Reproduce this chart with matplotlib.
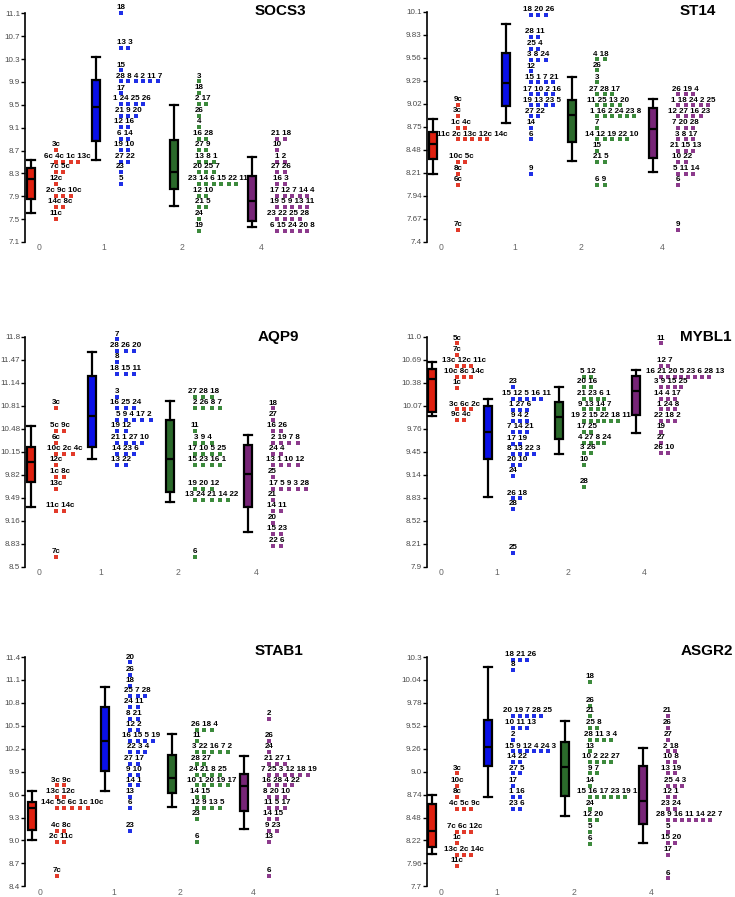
import matplotlib
matplotlib.use('Agg')
import matplotlib.pyplot as plt
from matplotlib import font_manager
import numpy as np

plt.rcParams['font.family'] = ['Liberation Sans', 'DejaVu Sans']

GROUPS = ['0', '1', '2', '4']
GENES = ['SOCS3', 'ST14', 'AQP9', 'MYBL1', 'STAB1', 'ASGR2']
BOX_COLORS = ['#e0200f', '#0a10e8', '#2b6a2b', '#772577']
DOT_COLORS = ['#e23a2a', '#1f2fe6', '#3c8a3c', '#8c3a8c']

# y tick labels
YTICKS = {
    'SOCS3': ['7.1', '7.5', '7.9', '8.3', '8.7', '9.1', '9.5', '9.9', '10.3', '10.7', '11.1'],
    'ST14': ['7.4', '7.67', '7.94', '8.21', '8.48', '8.75', '9.02', '9.29', '9.56', '9.83', '10.1'],
    'AQP9': ['8.5', '8.83', '9.16', '9.49', '9.82', '10.15', '10.48', '10.81', '11.14', '11.47', '11.8'],
    'MYBL1': ['7.9', '8.21', '8.52', '8.83', '9.14', '9.45', '9.76', '10.07', '10.38', '10.69', '11.0'],
    'STAB1': ['8.4', '8.7', '9.0', '9.3', '9.6', '9.9', '10.2', '10.5', '10.8', '11.1', '11.4'],
    'ASGR2': ['7.7', '7.96', '8.22', '8.48', '8.74', '9.0', '9.26', '9.52', '9.78', '10.04', '10.3'],
}

# box stats per group: (whisker low, q1, median, q3, whisker high)
BOXES = {
    'SOCS3': [(7.60, 7.86, 8.20, 8.39, 8.54), (8.53, 8.87, 9.46, 9.93, 10.33),
              (7.73, 8.02, 8.33, 8.89, 9.49), (7.36, 7.46, 7.81, 8.25, 8.58)],
    'ST14': [(8.19, 8.37, 8.55, 8.69, 8.84), (8.79, 8.99, 9.26, 9.62, 9.95),
             (8.35, 8.57, 8.89, 9.06, 9.33), (8.22, 8.38, 8.72, 8.97, 9.07)],
    'AQP9': [(9.35, 9.71, 10.00, 10.22, 10.52), (10.05, 10.22, 10.66, 11.24, 11.58),
             (9.43, 9.57, 10.05, 10.61, 10.88), (9.00, 9.35, 9.83, 10.24, 10.39)],
    'MYBL1': [(9.93, 9.98, 10.43, 10.57, 10.66), (8.84, 9.35, 9.71, 10.06, 10.16),
              (9.42, 9.62, 9.92, 10.12, 10.32), (9.70, 9.94, 10.27, 10.47, 10.55)],
    'STAB1': [(9.00, 9.14, 9.43, 9.50, 9.65), (9.65, 9.91, 10.30, 10.75, 11.01),
              (9.44, 9.62, 9.82, 10.12, 10.39), (9.15, 9.39, 9.71, 9.87, 10.10)],
    'ASGR2': [(8.07, 8.15, 8.33, 8.63, 8.74), (8.71, 9.06, 9.28, 9.59, 10.19),
              (8.50, 8.72, 9.05, 9.34, 9.57), (8.19, 8.41, 8.67, 9.06, 9.27)],
}

# labelled sample rows per group: (value, sample ids)
SOCS3_ROWS = [
    [(8.71, '3c'), (8.50, '6c 4c 1c 13c'), (8.32, '7c 5c'), (8.11, '12c'),
     (7.91, '2c 9c 10c'), (7.71, '14c 8c'), (7.51, '11c')],
    [(11.10, '18'), (10.49, '13 3'), (10.10, '15'), (9.91, '28 8 4 2 11 7'), (9.70, '17'),
     (9.51, '1 24 25 26'), (9.30, '21 9 20'), (9.11, '12 16'), (8.91, '6 14'),
     (8.71, '19 10'), (8.50, '27 22'), (8.32, '23'), (8.11, '5')],
    [(9.91, '3'), (9.71, '18'), (9.51, '2 17'), (9.30, '26'), (9.11, '4'), (8.91, '16 28'),
     (8.71, '27 9'), (8.50, '13 8 1'), (8.32, '20 25 7'), (8.11, '23 14 6 15 22 11'),
     (7.91, '12 10'), (7.71, '21 5'), (7.51, '24'), (7.30, '19')],
    [(8.91, '21 18'), (8.71, '10'), (8.50, '1 2'), (8.32, '27 26'), (8.11, '16 3'),
     (7.91, '17 12 7 14 4'), (7.71, '19 5 9 13 11'), (7.51, '23 22 25 28'),
     (7.30, '6 15 24 20 8')],
]
ST14_ROWS = [
    [(9.01, '9c'), (8.88, '3c'), (8.74, '1c 4c'), (8.60, '11c 2c 13c 12c 14c'),
     (8.34, '10c 5c'), (8.20, '8c'), (8.07, '6c'), (7.54, '7c')],
    [(10.06, '18 20 26'), (9.80, '28 11'), (9.66, '25 4'), (9.53, '3 8 24'), (9.40, '12'),
     (9.27, '15 1 7 21'), (9.13, '17 10 2 16'), (9.00, '19 13 23 5'), (8.87, '27 22'),
     (8.74, '14'), (8.60, '6'), (8.20, '9')],
    [(9.54, '4 18'), (9.41, '26'), (9.27, '3'), (9.13, '27 28 17'), (9.00, '11 25 13 20'),
     (8.87, '1 16 2 24 23 8'), (8.74, '7'), (8.60, '14 12 19 22 10'), (8.47, '15'),
     (8.34, '21 5'), (8.07, '6 9')],
    [(9.13, '26 19 4'), (9.00, '1 18 24 2 25'), (8.87, '12 27 16 23'), (8.74, '7 20 28'),
     (8.60, '3 8 17'), (8.47, '21 15 13'), (8.34, '10 22'), (8.20, '5 11 14'),
     (8.07, '6'), (7.54, '9')],
]
AQP9_ROWS = [
    [(10.78, '3c'), (10.45, '5c 9c'), (10.28, '6c'), (10.12, '10c 2c 4c'), (9.96, '12c'),
     (9.79, '1c 8c'), (9.62, '13c'), (9.30, '11c 14c'), (8.64, '7c')],
    [(11.76, '7'), (11.60, '28 26 20'), (11.44, '8'), (11.27, '18 15 11'), (10.94, '3'),
     (10.78, '16 25 24'), (10.61, '5 9 4 17 2'), (10.45, '19 12'), (10.28, '21 1 27 10'),
     (10.12, '14 23 6'), (9.96, '13 22')],
    [(10.94, '27 28 18'), (10.78, '2 26 8 7'), (10.45, '11'), (10.28, '3 9 4'),
     (10.12, '17 10 5 25'), (9.96, '15 23 16 1'), (9.62, '19 20 12'),
     (9.46, '13 24 21 14 22'), (8.64, '6')],
    [(10.77, '18'), (10.61, '27'), (10.45, '16 26'), (10.28, '2 19 7 8'), (10.12, '24 4'),
     (9.96, '13 1 10 12'), (9.79, '25'), (9.62, '17 5 9 3 28'), (9.46, '21'),
     (9.30, '14 11'), (9.13, '20'), (8.97, '15 23'), (8.80, '22 6')],
]
MYBL1_ROWS = [
    [(10.91, '5c'), (10.76, '7c'), (10.61, '13c 12c 11c'), (10.46, '10c 8c 14c'),
     (10.31, '1c'), (10.02, '3c 6c 2c'), (9.88, '9c 4c')],
    [(10.32, '23'), (10.16, '15 12 5 16 11'), (10.01, '1 27 6'), (9.87, '9 4 2'),
     (9.72, '7 14 21'), (9.56, '17 19'), (9.42, '8 13 22 3'), (9.27, '20 10'),
     (9.12, '24'), (8.82, '26 18'), (8.68, '28'), (8.09, '25')],
    [(10.46, '5 12'), (10.32, '20 16'), (10.16, '21 23 6 1'), (10.02, '9 13 14 7'),
     (9.87, '19 2 15 22 18 11'), (9.72, '17 25'), (9.57, '4 27 8 24'), (9.43, '3 26'),
     (9.27, '10'), (8.98, '28')],
    [(10.91, '11'), (10.61, '12 7'), (10.46, '16 21 20 5 23 6 28 13'), (10.32, '3 9 15 25'),
     (10.16, '14 4 17'), (10.02, '1 24 8'), (9.87, '22 18 2'), (9.72, '19'), (9.57, '27'),
     (9.43, '26 10')],
]
STAB1_ROWS = [
    [(9.72, '3c 9c'), (9.57, '13c 12c'), (9.43, '14c 5c 6c 1c 10c'), (9.13, '4c 8c'),
     (8.98, '2c 11c'), (8.54, '7c')],
    [(11.33, '20'), (11.17, '26'), (11.02, '18'), (10.89, '25 7 28'), (10.75, '24 11'),
     (10.59, '8 21'), (10.45, '12 2'), (10.30, '16 15 5 19'), (10.16, '22 3 4'),
     (10.00, '27 17'), (9.86, '9 10'), (9.72, '14 1'), (9.57, '13'), (9.43, '6'),
     (9.13, '23')],
    [(10.45, '26 18 4'), (10.30, '11'), (10.16, '3 22 16 7 2'), (10.00, '28 27'),
     (9.86, '24 21 8 25'), (9.72, '10 1 20 19 17'), (9.57, '14 15'), (9.43, '12 9 13 5'),
     (9.28, '23'), (8.98, '6')],
    [(10.59, '2'), (10.30, '26'), (10.16, '24'), (10.00, '21 27 1'),
     (9.86, '7 25 3 12 18 19'), (9.72, '16 28 4 22'), (9.57, '8 20 10'), (9.43, '11 5 17'),
     (9.28, '14 15'), (9.13, '9 23'), (8.98, '13'), (8.54, '6')],
]
ASGR2_ROWS = [
    [(8.98, '3c'), (8.84, '10c'), (8.71, '8c'), (8.58, '4c 5c 9c'), (8.32, '7c 6c 12c'),
     (8.19, '1c'), (8.06, '13c 2c 14c'), (7.93, '11c')],
    [(10.27, '18 21 26'), (10.15, '8'), (9.63, '20 19 7 28 25'), (9.50, '10 11 13'),
     (9.36, '2'), (9.23, '15 9 12 4 24 3'), (9.11, '14 22'), (8.98, '27 5'), (8.84, '17'),
     (8.71, '1 16'), (8.58, '23 6')],
    [(10.02, '18'), (9.75, '26'), (9.63, '21'), (9.50, '25 8'), (9.36, '28 11 3 4'),
     (9.23, '13'), (9.11, '10 2 22 27'), (8.98, '9 7'), (8.84, '14'),
     (8.71, '15 16 17 23 19 1'), (8.58, '24'), (8.45, '12 20'), (8.32, '5'), (8.18, '6')],
    [(9.63, '21'), (9.50, '26'), (9.36, '27'), (9.23, '2 18'), (9.11, '10 8'),
     (8.98, '13 19'), (8.84, '25 4 3'), (8.71, '12 1'), (8.58, '23 24'),
     (8.45, '28 9 16 11 14 22 7'), (8.32, '5'), (8.19, '15 20'), (8.06, '17'), (7.79, '6')],
]
ROWS = {'SOCS3': SOCS3_ROWS, 'ST14': ST14_ROWS, 'AQP9': AQP9_ROWS,
        'MYBL1': MYBL1_ROWS, 'STAB1': STAB1_ROWS, 'ASGR2': ASGR2_ROWS}

# layout in figure pixels
W, H = 735, 897
AX_PX = {  # left, top, right, bottom
    'SOCS3': (25, 13.3, 365, 242), 'ST14': (426.7, 11.7, 733, 241.7),
    'AQP9': (25, 336.7, 365, 566.7), 'MYBL1': (426.7, 336.7, 733, 566.7),
    'STAB1': (25, 657, 365, 886.3), 'ASGR2': (426.7, 657, 733, 886.3),
}
BOX_X = {  # box centres, pixels right of the y axis
    'SOCS3': [6, 70.7, 149, 227.3], 'ST14': [6, 79.3, 145.6, 226.6],
    'AQP9': [6, 67.3, 145, 222.7], 'MYBL1': [5.6, 61.6, 132.3, 209.3],
    'STAB1': [6.7, 80, 146.7, 219.3], 'ASGR2': [5.6, 61.6, 138.3, 216],
}
DOT_DX = {'SOCS3': 7.4, 'ST14': 7.4, 'AQP9': 8.3, 'MYBL1': 6.8, 'STAB1': 7.7, 'ASGR2': 7.0}
TITLE_PX = {'SOCS3': (280, 11), 'ST14': (698, 11), 'AQP9': (278, 337),
            'MYBL1': (706, 337), 'STAB1': (279, 651), 'ASGR2': (707, 651)}

# condensed font for tick labels if there is one
try:
    font_manager.findfont('Liberation Sans Narrow', fallback_to_default=False)
    TICK_FONT, TICK_SIZE = 'Liberation Sans Narrow', 7
except ValueError:
    TICK_FONT, TICK_SIZE = 'Liberation Sans', 5.8

fig = plt.figure(figsize=(W / 100, H / 100), dpi=100)

for gene in GENES:
    l, t, r, b = AX_PX[gene]
    ax = fig.add_axes([l / W, 1 - b / H, (r - l) / W, (b - t) / H])
    ticks = YTICKS[gene]
    ax.set_xlim(0, r - l)
    ax.set_ylim(float(ticks[0]), float(ticks[-1]))
    ax.set_yticks([float(v) for v in ticks])
    ax.set_yticklabels(ticks, family=TICK_FONT, fontsize=TICK_SIZE, color='#4a4a4a')
    pos = BOX_X[gene]
    ax.set_xticks([p + 8.5 for p in pos])
    ax.set_xticklabels(GROUPS, family=TICK_FONT, fontsize=TICK_SIZE + 0.4, color='#666666')
    ax.tick_params(axis='x', length=0, pad=1)
    ax.tick_params(axis='y', length=3, width=1, pad=0.5)
    for s in ['top', 'right', 'bottom']:
        ax.spines[s].set_visible(False)
    ax.spines['left'].set_linewidth(1.2)

    stats = [dict(whislo=a, q1=q1, med=m, q3=q3, whishi=z, fliers=[])
             for a, q1, m, q3, z in BOXES[gene]]
    bp = ax.bxp(stats, positions=pos, widths=8, capwidths=8, patch_artist=True,
                showfliers=False, manage_ticks=False,
                boxprops=dict(edgecolor='black', linewidth=1.6),
                medianprops=dict(color='black', linewidth=1.6),
                whiskerprops=dict(color='black', linewidth=1.6),
                capprops=dict(color='black', linewidth=1.6))
    for patch, c in zip(bp['boxes'], BOX_COLORS):
        patch.set_facecolor(c)

    dx = DOT_DX[gene]
    for gi, rows in enumerate(ROWS[gene]):
        x0 = pos[gi] + 25
        for v, labs in rows:
            n = len(labs.split())
            xs = x0 + dx * np.arange(n)
            ax.plot(xs, [v] * n, 's', ms=2.3, mew=0, color=DOT_COLORS[gi], clip_on=False)
            ax.annotate(labs, xy=(xs.mean(), v), xytext=(0, 1.3), textcoords='offset points',
                        ha='center', va='bottom', fontsize=5.8, fontweight='bold',
                        color='black', annotation_clip=False)

    tx, ty = TITLE_PX[gene]
    fig.text(tx / W, 1 - ty / H, gene, ha='center', va='center',
             fontsize=11, fontweight='bold')

fig.savefig('out.png', dpi=100)
